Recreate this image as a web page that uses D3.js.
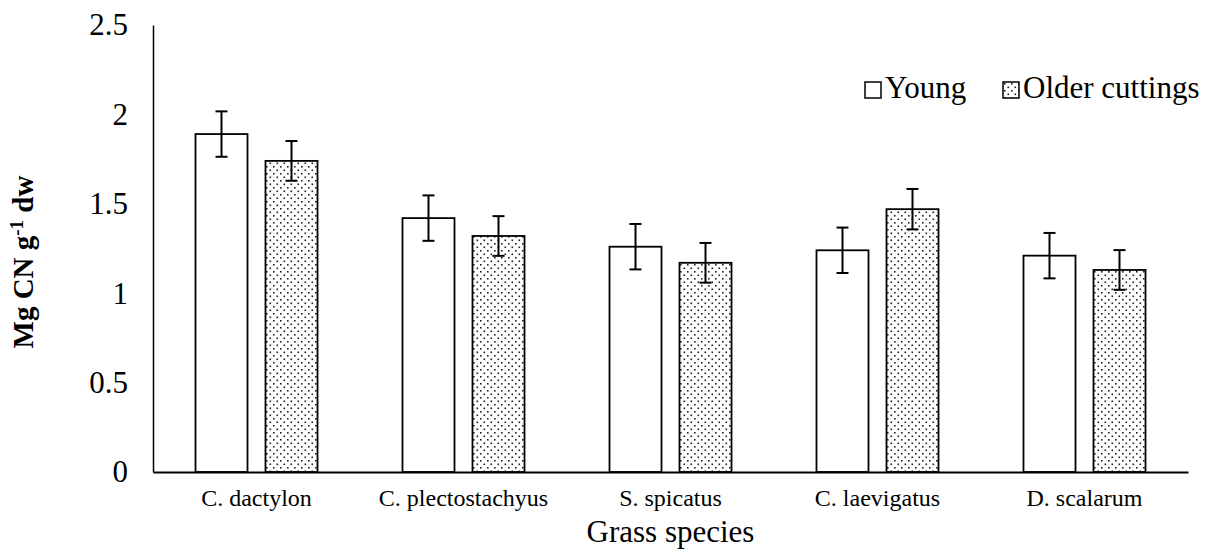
<!DOCTYPE html>
<html>
<head>
<meta charset="utf-8">
<script src="https://cdn.jsdelivr.net/npm/d3@7"></script>
<style>
  body { margin: 0; background: #fff; }
  text { font-family: "Liberation Serif", "DejaVu Serif", serif; fill: #000; }
</style>
</head>
<body>
<svg id="svg" width="1212" height="556"></svg>
<script>
// values
var species = ["C. dactylon", "C. plectostachyus", "S. spicatus", "C. laevigatus", "D. scalarum"];
var seriesNames = ["Young", "Older cuttings"];
var youngVals = [1.89, 1.42, 1.26, 1.24, 1.21];
var youngErr = [0.127, 0.127, 0.127, 0.127, 0.127];
var olderVals = [1.74, 1.32, 1.17, 1.47, 1.13];
var olderErr = [0.111, 0.111, 0.111, 0.113, 0.111];
var yTicks = [0, 0.5, 1, 1.5, 2, 2.5];

var svg = d3.select("#svg");
var margin = {left: 153, right: 24, top: 25, bottom: 84};
var width = 1212 - margin.left - margin.right;
var height = 556 - margin.top - margin.bottom;
var serif = '"Liberation Serif", "DejaVu Serif", serif';

// dotted fill like the excel pattern
var pat = svg.append("defs").append("pattern")
    .attr("id", "dots")
    .attr("patternUnits", "userSpaceOnUse")
    .attr("width", 7).attr("height", 7);
pat.append("rect").attr("width", 7).attr("height", 7).attr("fill", "#fff");
pat.append("rect").attr("x", 1).attr("y", 1).attr("width", 1.6).attr("height", 1.6).attr("fill", "#222");
pat.append("rect").attr("x", 4.5).attr("y", 4.5).attr("width", 1.6).attr("height", 1.6).attr("fill", "#222");

var rows = species.map(function(s, i) {
    return {name: s, vals: [
        {key: "Young", v: youngVals[i], e: youngErr[i]},
        {key: "Older cuttings", v: olderVals[i], e: olderErr[i]}
    ]};
});

var xScale = d3.scaleBand().domain(species).range([0, width]).padding(0);
var xInner = d3.scaleBand().domain(seriesNames).range([0, xScale.bandwidth()])
    .paddingInner(0.257).paddingOuter(0.607);
var yScale = d3.scaleLinear().domain([0, 2.5]).range([height, 0]);

var g = svg.append("g").attr("transform", `translate(${margin.left}, ${margin.top})`);

var groups = g.selectAll(".grp").data(rows).enter().append("g")
    .attr("transform", d => `translate(${xScale(d.name)},0)`);

groups.selectAll("rect").data(d => d.vals).enter().append("rect")
    .attr("x", d => xInner(d.key))
    .attr("y", d => yScale(d.v))
    .attr("width", xInner.bandwidth())
    .attr("height", d => height - yScale(d.v))
    .attr("fill", d => d.key == "Young" ? "#fff" : "url(#dots)")
    .attr("stroke", "#000")
    .attr("stroke-width", 1.8);

// error bars
var eb = groups.selectAll(".eb").data(d => d.vals).enter().append("g")
    .attr("transform", d => `translate(${xInner(d.key) + xInner.bandwidth() / 2},0)`);
eb.append("line")
    .attr("y1", d => yScale(d.v + d.e)).attr("y2", d => yScale(d.v - d.e))
    .attr("stroke", "#000").attr("stroke-width", 2);
eb.append("line")
    .attr("x1", -6).attr("x2", 6)
    .attr("y1", d => yScale(d.v + d.e)).attr("y2", d => yScale(d.v + d.e))
    .attr("stroke", "#000").attr("stroke-width", 2);
eb.append("line")
    .attr("x1", -6).attr("x2", 6)
    .attr("y1", d => yScale(d.v - d.e)).attr("y2", d => yScale(d.v - d.e))
    .attr("stroke", "#000").attr("stroke-width", 2);

// axes
var yAxis = g.append("g")
    .call(d3.axisLeft(yScale).tickValues(yTicks).tickFormat(d => String(d)).tickSize(0).tickPadding(25));
yAxis.select(".domain").attr("stroke", "#000").attr("stroke-width", 1.5);
yAxis.selectAll("text").style("font-size", "31px").style("font-family", serif);

var xAxis = g.append("g")
    .attr("transform", `translate(0, ${height})`)
    .call(d3.axisBottom(xScale).tickSize(0).tickPadding(17));
xAxis.select(".domain").attr("stroke", "#000").attr("stroke-width", 2);
xAxis.selectAll("text").style("font-size", "24px").style("font-family", serif);

// axis titles
svg.append("text")
    .attr("x", margin.left + width / 2).attr("y", 542)
    .attr("text-anchor", "middle")
    .style("font-size", "31px").style("font-family", serif)
    .text("Grass species");

var yt = svg.append("text")
    .attr("transform", "translate(33, 262) rotate(-90)")
    .attr("text-anchor", "middle")
    .style("font-size", "29px").style("font-weight", "bold").style("font-family", serif);
yt.append("tspan").text("Mg CN g");
yt.append("tspan").attr("dy", -10).style("font-size", "19px").text("-1");
yt.append("tspan").attr("dy", 10).text(" dw");

// legend
var legX = [865, 1003];
var leg = svg.selectAll(".leg").data(seriesNames).enter().append("g")
    .attr("transform", (d, i) => `translate(${legX[i]}, 82)`);
leg.append("rect")
    .attr("width", 16).attr("height", 16)
    .attr("fill", (d, i) => i == 0 ? "#fff" : "url(#dots)")
    .attr("stroke", "#000").attr("stroke-width", 1.5);
leg.append("text")
    .attr("x", 20).attr("y", 16)
    .style("font-size", "31px").style("font-family", serif)
    .text(d => d);
</script>
</body>
</html>
